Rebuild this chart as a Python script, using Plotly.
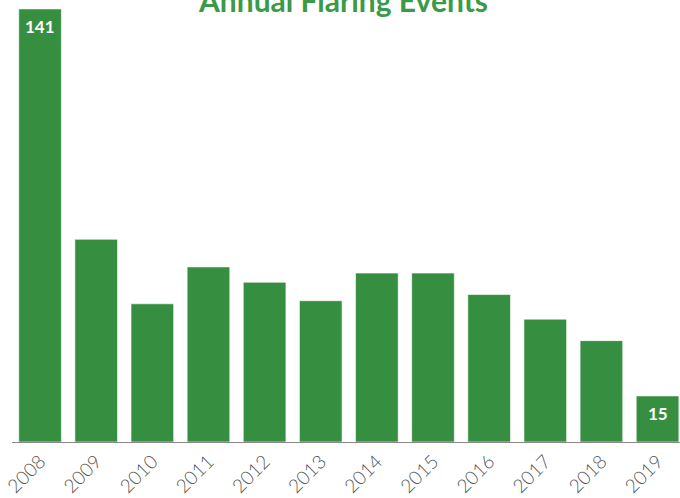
import plotly.graph_objects as go

years = ["2008", "2009", "2010", "2011", "2012", "2013", "2014", "2015", "2016", "2017", "2018", "2019"]
events = [141, 66, 45, 57, 52, 46, 55, 55, 48, 40, 33, 15]
labels = ["141", "", "", "", "", "", "", "", "", "", "", "15"]

GREEN = "#368f41"

fig = go.Figure()
fig.add_trace(go.Bar(
    x=years, y=events,
    marker=dict(color=GREEN, line=dict(color="rgba(255,255,255,0.6)", width=1)),
    width=0.76,
    hoverinfo="skip",
))

for i, (v, lab) in enumerate(zip(events, labels)):
    if lab:
        fig.add_annotation(x=i, y=v, text=f"<b>{lab}</b>", showarrow=False,
                           yanchor="top", yshift=-5,
                           font=dict(family="Lato", size=17, color="white"))

fig.add_annotation(xref="paper", yref="paper", x=0.496, y=1.0, yshift=20,
                   text="<b>Annual Flaring Events</b>", showarrow=False,
                   yanchor="top",
                   font=dict(family="Lato", size=30, color="#3a9a48"))

fig.update_layout(
    width=680, height=498,
    margin=dict(l=12, r=0, t=0, b=56),
    plot_bgcolor="white", paper_bgcolor="white",
    showlegend=False,
    xaxis=dict(type="category", range=[-0.5, 11.4], showline=True, linecolor="#888888",
               linewidth=1, tickangle=-45, ticks="", showgrid=False, automargin=False,
               tickfont=dict(family="Lato", size=19, color="#555555", weight=300)),
    yaxis=dict(range=[0, 143.9], visible=False, showgrid=False),
)

fig.write_html("out.html", config={"displayModeBar": False},
               post_script="document.body.style.margin='0';")
